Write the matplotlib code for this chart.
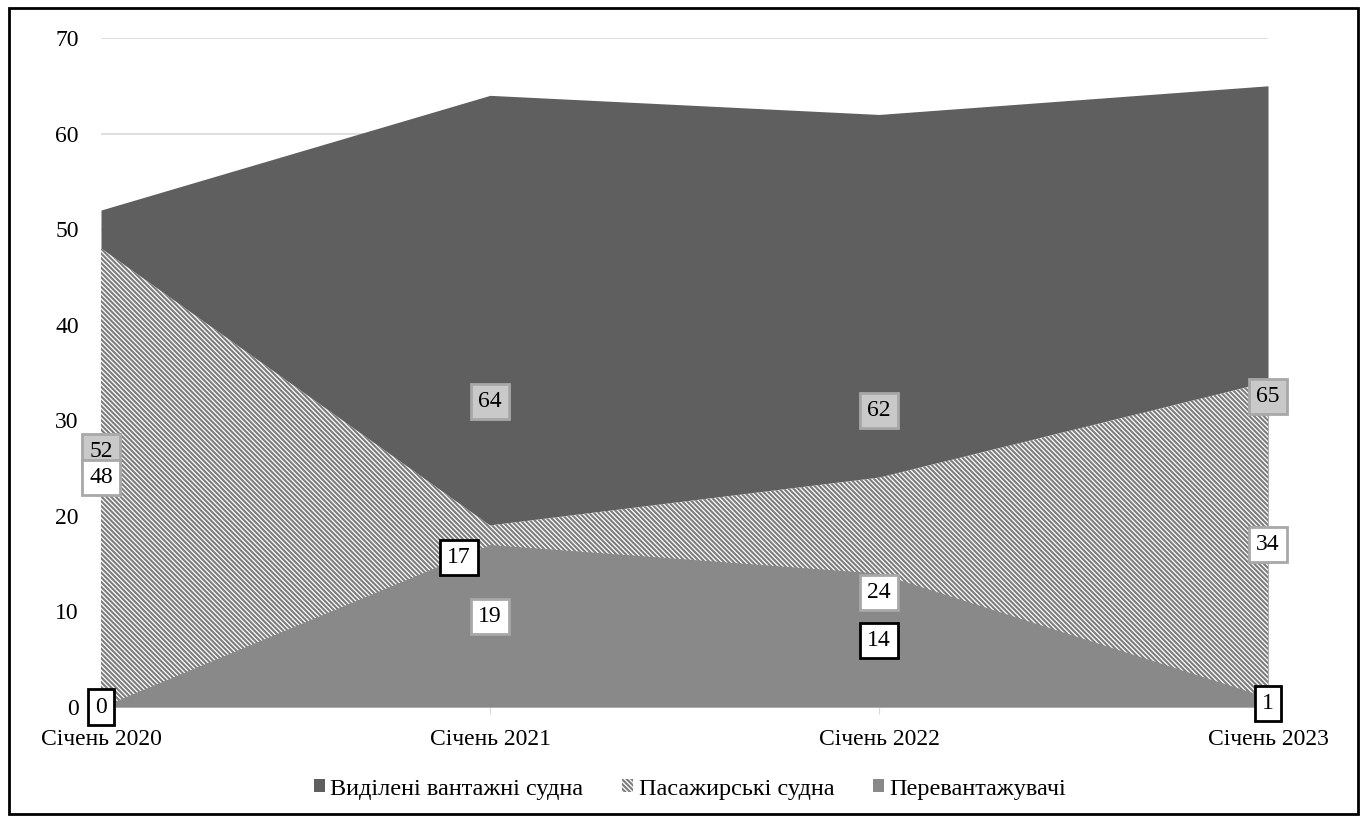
import matplotlib
matplotlib.use("Agg")
import matplotlib.pyplot as plt
from matplotlib.patches import Rectangle, Patch
import numpy as np

categories = ["Січень 2020", "Січень 2021", "Січень 2022", "Січень 2023"]
cargo = [52, 64, 62, 65]        # Виділені вантажні судна
passenger = [48, 19, 24, 34]    # Пасажирські судна
transship = [0, 17, 14, 1]      # Перевантажувачі
series_names = ["Виділені вантажні судна", "Пасажирські судна", "Перевантажувачі"]

plt.rcParams['font.family'] = ['Liberation Serif', 'DejaVu Serif']
plt.rcParams['hatch.linewidth'] = 1.5
plt.rcParams['hatch.color'] = '#7c7c7c'

W, H = 1367, 821
fig = plt.figure(figsize=(W/100, H/100), dpi=100)
ax = fig.add_axes([101/W, 1-707/H, (1268-101)/W, (707-38)/H])

x = np.arange(len(categories))
dark = '#5f5f5f'
mid = '#898989'
hatch = '\\' * 7
ax.fill_between(x, 0, cargo, color=dark, lw=0, zorder=2)
ax.fill_between(x, 0, passenger, facecolor='white', edgecolor='#7c7c7c', hatch=hatch, lw=0, zorder=3)
ax.fill_between(x, 0, transship, color=mid, lw=0, zorder=4)

fs = 17
ax.set_xlim(0, 3)
ax.set_ylim(0, 70)
ax.set_yticks(range(0, 71, 10))
ax.set_xticks(x)
ax.set_xticklabels(categories)
ax.grid(axis='y', color='#d9d9d9', lw=1.2, zorder=0)
ax.set_axisbelow(True)
for s in ['top', 'right', 'left']:
    ax.spines[s].set_visible(False)
ax.spines['bottom'].set_color('#d9d9d9')
ax.spines['bottom'].set_linewidth(1.2)
ax.tick_params(axis='y', length=0, pad=16, labelsize=fs)
ax.tick_params(axis='x', length=5, color='#d9d9d9', direction='out', pad=11, labelsize=fs)

def lbl(xv, yv, val, fc, ec, lw=1.5, z=6):
    ax.text(xv, yv, str(val), ha='center', va='center', fontsize=fs, zorder=z,
            bbox=dict(boxstyle='square,pad=0.3', fc=fc, ec=ec, lw=lw), clip_on=False)

# cargo labels (centered in area)
for i, v in enumerate(cargo):
    lbl(x[i], v/2 + (0.7 if i == 0 else 0), v, '#c9c9c9', '#a8a8a8', lw=2, z=6)
# passenger labels
for i, v in enumerate(passenger):
    lbl(x[i], v/2, v, 'white', '#a8a8a8', lw=2, z=7)
# transshipper labels
tpos = [(0, 0), (-0.08, 15.6), (0, 7), (0, 0.4)]
for i, v in enumerate(transship):
    dx, yy = tpos[i]
    lbl(x[i] + dx, yy, v, 'white', 'black', lw=2, z=8)

handles = [Patch(facecolor=dark, edgecolor='none'),
           Patch(facecolor='white', edgecolor='#7c7c7c', hatch=hatch, lw=0),
           Patch(facecolor=mid, edgecolor='none')]
fig.legend(handles, series_names, loc='center', bbox_to_anchor=(690/W, 1-789/H),
           ncol=3, frameon=False, fontsize=17.5, handlelength=0.45, handleheight=0.45,
           handletextpad=0.22, columnspacing=1.6)

fig.patches.append(Rectangle((9/W, 7/H), (1358-9)/W, (813-7)/H, transform=fig.transFigure,
                             fill=False, ec='black', lw=2))
fig.savefig('out.png', dpi=100)
